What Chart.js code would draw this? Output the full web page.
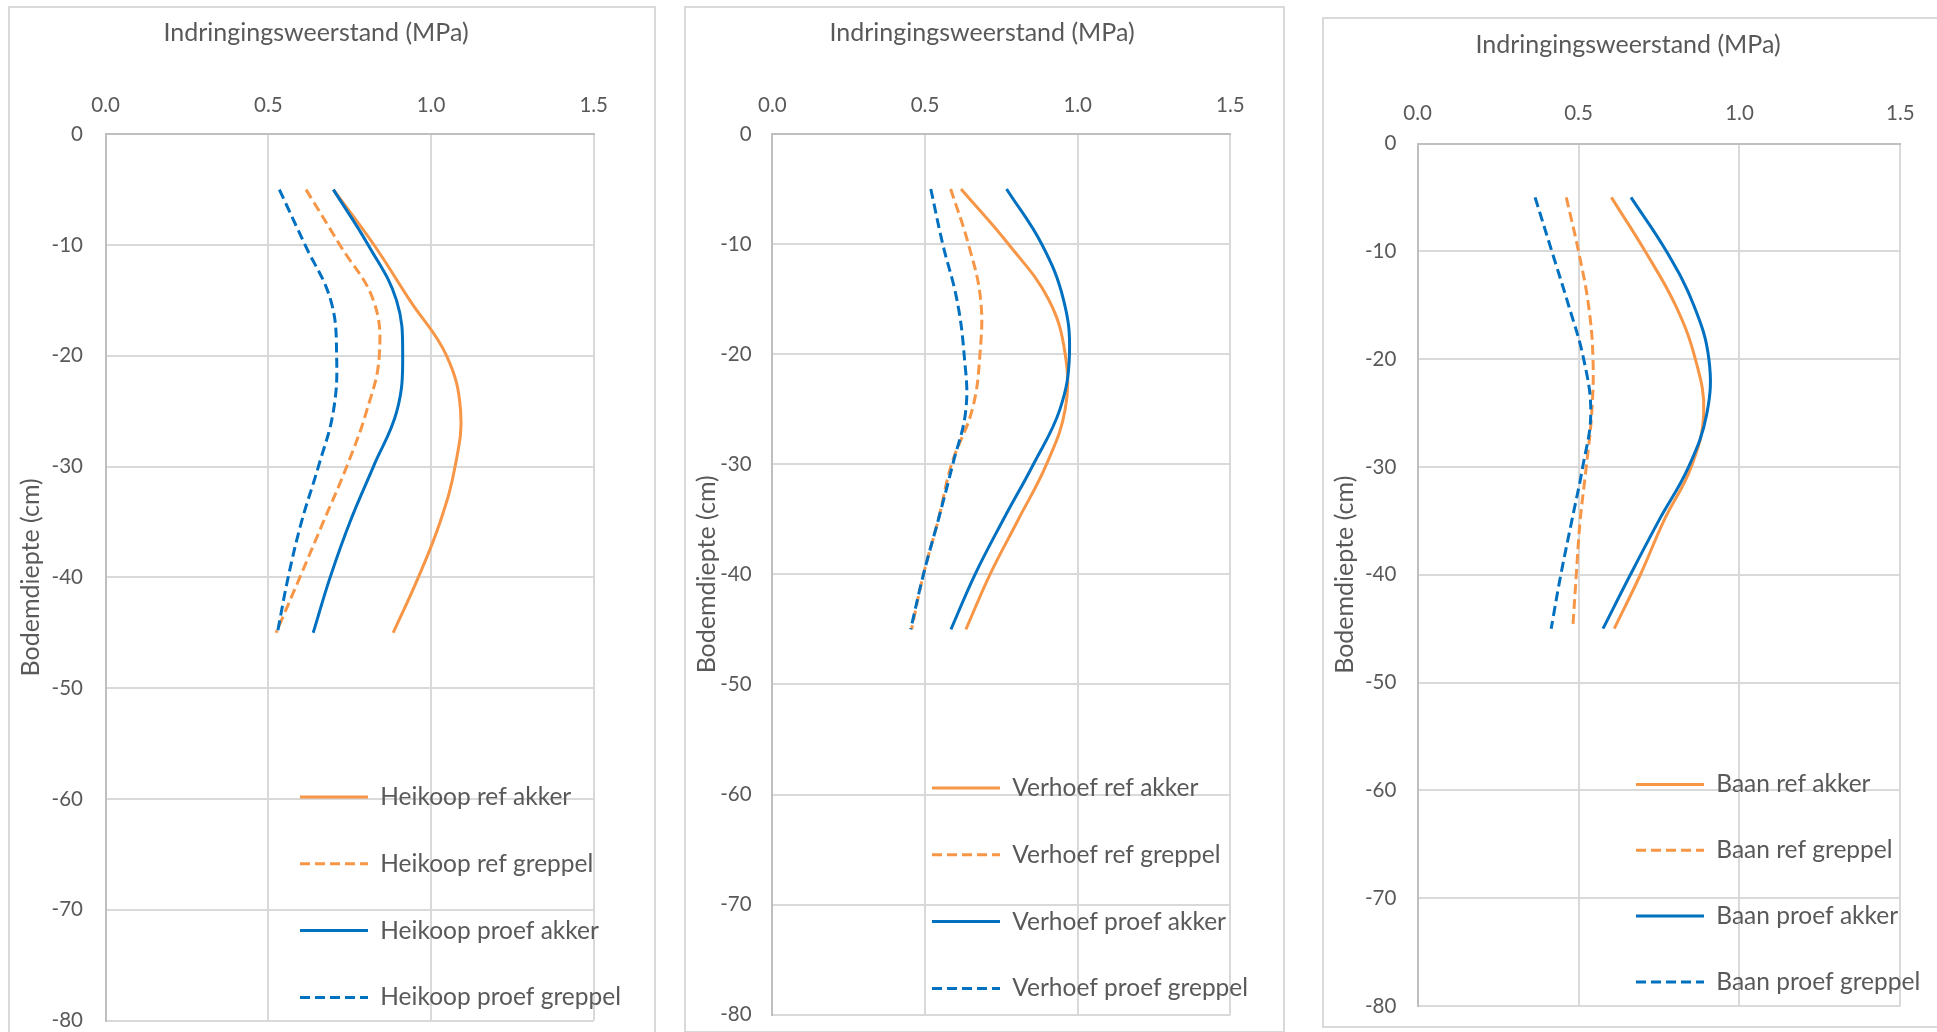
<!DOCTYPE html>
<html>
<head>
<meta charset="utf-8">
<script src="https://cdn.jsdelivr.net/npm/chart.js@4.4.0/dist/chart.umd.min.js"></script>
<style>
  html, body { margin: 0; padding: 0; background: #fff; }
  body { width: 1937px; height: 1032px; position: relative; overflow: hidden; }
  .panel { position: absolute; border: 2px solid #d9d9d9; box-sizing: border-box; background: #fff; }
  .panel canvas { position: absolute; left: 0; top: 0; }
</style>
</head>
<body>
<div class="panel" id="p1"><canvas id="c1"></canvas></div>
<div class="panel" id="p2"><canvas id="c2"></canvas></div>
<div class="panel" id="p3"><canvas id="c3"></canvas></div>
<script>
// depth of each measurement (cm)
const depths = [-5, -10, -15, -20, -25, -30, -35, -40, -45];
const seriesNames = ['ref akker', 'ref greppel', 'proef akker', 'proef greppel'];

// penetration resistance (MPa)
const heikoopRefAkker     = [0.700, 0.825, 0.935, 1.048, 1.091, 1.074, 1.028, 0.961, 0.884];
const heikoopRefGreppel   = [0.616, 0.720, 0.823, 0.841, 0.802, 0.741, 0.669, 0.597, 0.524];
const heikoopProefAkker   = [0.700, 0.807, 0.894, 0.913, 0.895, 0.823, 0.751, 0.690, 0.638];
const heikoopProefGreppel = [0.534, 0.613, 0.692, 0.710, 0.700, 0.654, 0.602, 0.561, 0.528];

const verhoefRefAkker     = [0.618, 0.773, 0.904, 0.959, 0.959, 0.898, 0.806, 0.713, 0.634];
const verhoefRefGreppel   = [0.584, 0.642, 0.682, 0.680, 0.655, 0.587, 0.544, 0.495, 0.456];
const verhoefProefAkker   = [0.767, 0.882, 0.953, 0.973, 0.942, 0.855, 0.757, 0.664, 0.585];
const verhoefProefGreppel = [0.519, 0.558, 0.604, 0.628, 0.634, 0.591, 0.544, 0.495, 0.453];

const baanRefAkker        = [0.602, 0.707, 0.801, 0.863, 0.889, 0.850, 0.765, 0.692, 0.611];
const baanRefGreppel      = [0.462, 0.500, 0.531, 0.545, 0.541, 0.524, 0.505, 0.493, 0.482];
const baanProefAkker      = [0.663, 0.773, 0.858, 0.905, 0.899, 0.842, 0.749, 0.661, 0.576];
const baanProefGreppel    = [0.365, 0.417, 0.469, 0.516, 0.538, 0.513, 0.479, 0.445, 0.415];

const xTickValues = [0, 0.5, 1.0, 1.5];
const yTickValues = [0, -10, -20, -30, -40, -50, -60, -70, -80];

const xTitle = 'Indringingsweerstand (MPa)';
const yTitle = 'Bodemdiepte (cm)';

const ORANGE = '#F79646';
const BLUE = '#0070C0';
const TEXT = '#595959';
const FONT = 'Lato';
const titleSize = 25, tickSize = 20.5, legendSize = 24.5;

const styles = [
  { color: ORANGE, dash: [] },
  { color: ORANGE, dash: [10, 5] },
  { color: BLUE, dash: [] },
  { color: BLUE, dash: [10, 5] }
];

// page geometry of each panel (border box, plot rect, text anchors)
const panels = [
  { id: 'p1', canvas: 'c1', site: 'Heikoop',
    series: [heikoopRefAkker, heikoopRefGreppel, heikoopProefAkker, heikoopProefGreppel],
    box: [8, 6, 648, 1030], plot: [105.6, 593.7, 134.2, 1020.5],
    titleX: 316, titleY: 33, yTitleX: 31, yTickRight: 83, xTickY: 105,
    legendX: 300, legendY: 797, legendGap: 66.8 },
  { id: 'p2', canvas: 'c2', site: 'Verhoef',
    series: [verhoefRefAkker, verhoefRefGreppel, verhoefProefAkker, verhoefProefGreppel],
    box: [684, 6, 601, 1027], plot: [772.3, 1230.4, 133.9, 1014.7],
    titleX: 982, titleY: 33, yTitleX: 707, yTickRight: 751.6, xTickY: 105,
    legendX: 932, legendY: 788, legendGap: 66.8 },
  { id: 'p3', canvas: 'c3', site: 'Baan',
    series: [baanRefAkker, baanRefGreppel, baanProefAkker, baanProefGreppel],
    box: [1322, 17, 620, 1011], plot: [1417.6, 1900.4, 143.5, 1006],
    titleX: 1628, titleY: 45, yTitleX: 1345, yTickRight: 1396.4, xTickY: 113,
    legendX: 1636, legendY: 784.5, legendGap: 65.8 }
];

// moves the chartArea legend to a fixed spot inside the plot
const legendPlace = {
  id: 'legendPlace',
  afterLayout(chart, args, opts) {
    const lg = chart.legend;
    if (!lg) return;
    const pad = lg.options.labels.padding;
    lg.left = opts.x - pad;
    lg.top = opts.y - pad - legendSize / 2;
    lg.right = chart.width + 1000;
    lg.bottom = chart.height + 1000;
  }
};

// legend lines take dash/width from the dataset line, not the point
function lineLabels(chart) {
  return Chart.defaults.plugins.legend.labels.generateLabels(chart).map(item => {
    const ds = chart.data.datasets[item.datasetIndex];
    item.lineDash = ds.borderDash;
    item.lineWidth = ds.borderWidth;
    item.strokeStyle = ds.borderColor;
    item.pointStyle = 'line';
    return item;
  });
}

function makePanel(p) {
  const div = document.getElementById(p.id);
  div.style.left = p.box[0] + 'px';
  div.style.top = p.box[1] + 'px';
  div.style.width = p.box[2] + 'px';
  div.style.height = p.box[3] + 'px';
  const ox = p.box[0] + 2, oy = p.box[1] + 2;
  const W = p.box[2] - 4, H = p.box[3] - 4;
  const cv = document.getElementById(p.canvas);
  cv.width = W; cv.height = H;
  cv.style.width = W + 'px'; cv.style.height = H + 'px';

  const L = p.plot[0] - ox, R = p.plot[1] - ox, T = p.plot[2] - oy, B = p.plot[3] - oy;
  const lh = titleSize * 1.2, lhTick = tickSize * 1.2;
  // title is centred over [0, W - padR]; the gap up to the plot is an empty right axis
  const padR = W - 2 * (p.titleX - ox);
  const spacerW = (W - padR) - R;
  const padB = H - B;
  const titlePadTop = (p.titleY - oy) - lh / 2;
  const xAxisH = T - (lh + titlePadTop);
  const xTickPad = T - (p.xTickY - oy) - lhTick / 2;
  const yTickPad = L - (p.yTickRight - ox);
  const yTitlePad = (p.yTitleX - ox) - lh / 2;
  const legendPad = p.legendGap - legendSize;

  const datasets = p.series.map((vals, i) => ({
    label: p.site + ' ' + seriesNames[i],
    data: depths.map((d, k) => ({ x: vals[k], y: d })),
    showLine: true,
    borderColor: styles[i].color,
    backgroundColor: styles[i].color,
    borderWidth: 3,
    borderDash: styles[i].dash,
    borderCapStyle: 'butt',
    pointRadius: 0,
    tension: 0.4,
    order: 3 - i
  }));

  new Chart(cv, {
    type: 'scatter',
    data: { datasets },
    plugins: [legendPlace],
    options: {
      responsive: false,
      animation: false,
      devicePixelRatio: 1,
      layout: { padding: { left: 0, right: padR, top: 0, bottom: padB } },
      plugins: {
        tooltip: { enabled: false },
        title: {
          display: true, text: xTitle, color: TEXT,
          font: { family: FONT, size: titleSize, weight: 'normal' },
          padding: { top: titlePadTop, bottom: 0 }
        },
        legend: {
          position: 'chartArea', align: 'start', fullSize: false,
          labels: {
            usePointStyle: true, pointStyle: 'line', pointStyleWidth: 68,
            color: TEXT, padding: legendPad,
            font: { family: FONT, size: legendSize },
            generateLabels: lineLabels,
            sort: (a, b) => a.datasetIndex - b.datasetIndex
          }
        },
        legendPlace: { x: p.legendX - ox, y: p.legendY - oy }
      },
      scales: {
        x: {
          type: 'linear', position: 'top', min: 0, max: 1.5,
          afterBuildTicks: s => { s.ticks = xTickValues.map(v => ({ value: v })); },
          afterFit: s => { s.height = xAxisH; s.paddingLeft = 0; s.paddingRight = 0; },
          ticks: {
            padding: xTickPad, color: TEXT,
            font: { family: FONT, size: tickSize },
            callback: v => Number(v).toFixed(1)
          },
          grid: { color: '#d9d9d9', lineWidth: 2, drawTicks: false },
          border: { color: '#bfbfbf', width: 2 }
        },
        y: {
          type: 'linear', position: 'left', min: -80, max: 0,
          afterBuildTicks: s => { s.ticks = yTickValues.map(v => ({ value: v })); },
          afterFit: s => { s.width = L; s.paddingTop = 0; s.paddingBottom = 0; },
          ticks: {
            padding: yTickPad, color: TEXT,
            font: { family: FONT, size: tickSize },
            callback: v => String(v)
          },
          title: {
            display: true, text: yTitle, color: TEXT,
            font: { family: FONT, size: titleSize },
            padding: { top: yTitlePad, bottom: 0 }
          },
          grid: { color: '#d9d9d9', lineWidth: 2, drawTicks: false },
          border: { color: '#bfbfbf', width: 2 }
        },
        spacer: {
          type: 'linear', position: 'right', display: true,
          afterFit: s => { s.width = spacerW; s.paddingTop = 0; s.paddingBottom = 0; },
          ticks: { display: false },
          grid: { display: false, drawTicks: false },
          border: { display: false }
        }
      }
    }
  });
}

panels.forEach(makePanel);
</script>
</body>
</html>
